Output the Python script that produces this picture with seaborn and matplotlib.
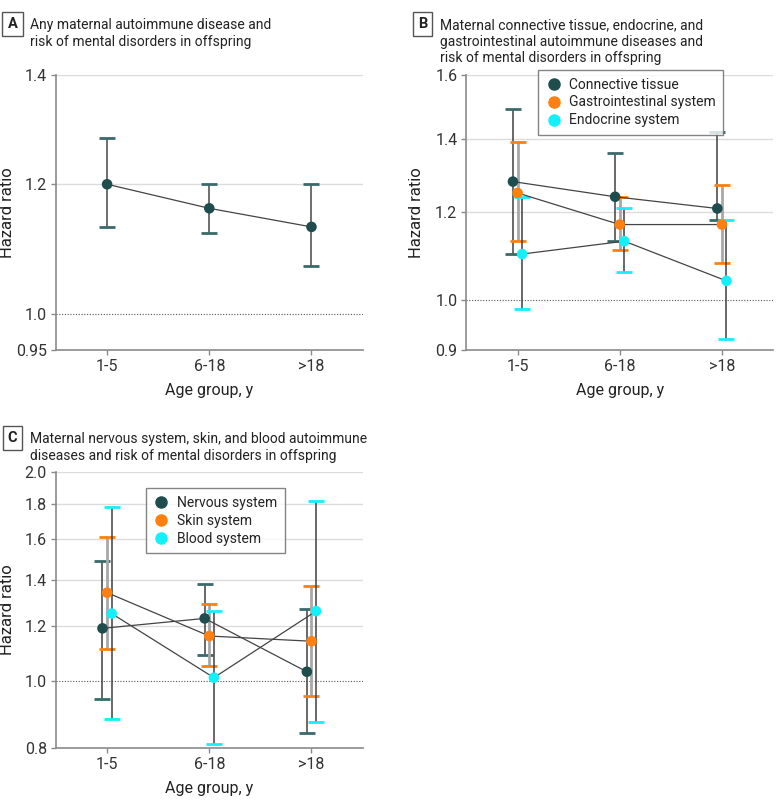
import matplotlib
matplotlib.use("Agg")
import matplotlib.pyplot as plt
from matplotlib.ticker import NullLocator, FixedLocator, FixedFormatter
from matplotlib.lines import Line2D
import seaborn as sns
import numpy as np
import pandas as pd

# age groups on the x axis
groups = ["1-5", "6-18", ">18"]

# panel A: any maternal autoimmune disease
any_hr = [1.20, 1.16, 1.13]
any_lo = [1.13, 1.12, 1.07]
any_hi = [1.28, 1.20, 1.20]

# panel B
ct_hr = [1.28, 1.24, 1.21]
ct_lo = [1.10, 1.13, 1.18]
ct_hi = [1.49, 1.36, 1.42]
gi_hr = [1.25, 1.17, 1.17]
gi_lo = [1.13, 1.11, 1.08]
gi_hi = [1.39, 1.24, 1.27]
en_hr = [1.10, 1.13, 1.04]
en_lo = [0.98, 1.06, 0.92]
en_hi = [1.24, 1.21, 1.18]

# panel C
nv_hr = [1.19, 1.23, 1.03]
nv_lo = [0.94, 1.09, 0.84]
nv_hi = [1.49, 1.38, 1.27]
sk_hr = [1.34, 1.16, 1.14]
sk_lo = [1.11, 1.05, 0.95]
sk_hi = [1.61, 1.29, 1.37]
bl_hr = [1.25, 1.01, 1.26]
bl_lo = [0.88, 0.81, 0.87]
bl_hi = [1.78, 1.26, 1.82]

DARK = "#1f4d4e"
DARK_CAP = "#3b6a6a"
ORANGE = "#ff8010"
CYAN = "#14f0fa"

sns.set_theme(style="white")
plt.rcParams['font.family'] = ['Roboto', 'DejaVu Sans']
plt.rcParams['text.color'] = '#222222'


def make_df(series):
    rows = []
    for k, (name, hr, lo, hi) in enumerate(series):
        off = (k - (len(series) - 1) / 2) * 0.045
        for i, g in enumerate(groups):
            rows.append({'series': name, 'group': g, 'x': i + off,
                         'hr': hr[i], 'lo': lo[i], 'hi': hi[i]})
    return pd.DataFrame(rows)


def draw_panel(ax, series, colors, stems, ylim, yticks, ylabels, legend_pos=None):
    df = make_df(series)
    names = [s[0] for s in series]

    # error bars: grey stems, coloured caps
    for name, col, stem in zip(names, colors, stems):
        d = df[df.series == name]
        cap_col = DARK_CAP if col == DARK else col
        eb = ax.errorbar(d['x'], d['hr'], yerr=[d['hr'] - d['lo'], d['hi'] - d['hr']],
                         fmt='none', ecolor=stem[0], elinewidth=stem[1], capsize=5.5,
                         capthick=2, zorder=2)
        for c in eb[1]:
            c.set_markeredgecolor(cap_col)
            c.set_color(cap_col)

    # connecting lines
    sns.lineplot(data=df, x='x', y='hr', units='series', estimator=None,
                 color='#444444', lw=0.9, ax=ax, zorder=3, legend=False)
    # points
    sns.scatterplot(data=df, x='x', y='hr', hue='series', palette=dict(zip(names, colors)),
                    s=58, edgecolor='none', ax=ax, zorder=4, legend=False)

    ax.set_yscale('log')
    ax.set_ylim(*ylim)
    ax.set_xlim(-0.5, 2.5)
    ax.yaxis.set_major_locator(FixedLocator(yticks))
    ax.yaxis.set_major_formatter(FixedFormatter(ylabels))
    ax.yaxis.set_minor_locator(NullLocator())
    ax.set_xticks(range(len(groups)))
    ax.set_xticklabels(groups)

    for t in yticks:
        if t > 1.0:
            ax.axhline(t, color='#dcdcdc', lw=1, zorder=0)
    ax.axhline(1.0, color='#555555', lw=0.8, ls=(0, (1, 1.5)), zorder=0)

    for side in ['top', 'right']:
        ax.spines[side].set_visible(False)
    for side in ['left', 'bottom']:
        ax.spines[side].set_color('#8a8a8a')
        ax.spines[side].set_linewidth(1.2)
    ax.tick_params(axis='both', which='major', length=3.5, width=1, color='#8a8a8a',
                   labelsize=11.5, labelcolor='#333333', pad=3, left=True, bottom=True)

    ax.set_xlabel('Age group, y', fontsize=11.5, color='#222222')
    ax.set_ylabel('Hazard ratio', fontsize=12, color='#222222')
    ax.xaxis.set_label_coords(0.5, -0.12)

    if legend_pos is not None:
        handles = [Line2D([0], [0], marker='o', ls='', markersize=8, color=c, label=n)
                   for n, c in zip(names, colors)]
        leg = ax.legend(handles=handles, loc='upper left', bbox_to_anchor=legend_pos,
                        borderaxespad=0, frameon=True, fancybox=False, fontsize=10,
                        handletextpad=0.5, labelspacing=0.28, borderpad=0.55,
                        handlelength=1.2)
        leg.get_frame().set_edgecolor('#666666')
        leg.get_frame().set_linewidth(1)
        leg.set_zorder(5)


fig = plt.figure(figsize=(7.8, 8.02), dpi=100)
ax_a = fig.add_axes([0.0718, 0.5636, 0.393, 0.343])
ax_b = fig.add_axes([0.598, 0.5636, 0.393, 0.343])
ax_c = fig.add_axes([0.0718, 0.0677, 0.393, 0.3434])

draw_panel(ax_a, [('Any', any_hr, any_lo, any_hi)], [DARK], [('#555555', 1.2)],
           (0.95, 1.4), [0.95, 1.0, 1.2, 1.4], ['0.95', '1.0', '1.2', '1.4'])

draw_panel(ax_b, [('Connective tissue', ct_hr, ct_lo, ct_hi),
                  ('Gastrointestinal system', gi_hr, gi_lo, gi_hi),
                  ('Endocrine system', en_hr, en_lo, en_hi)],
           [DARK, ORANGE, CYAN], [('#404040', 1.1), ('#a8a8a8', 2.0), ('#404040', 1.1)],
           (0.9, 1.6), [0.9, 1.0, 1.2, 1.4, 1.6], ['0.9', '1.0', '1.2', '1.4', '1.6'],
           legend_pos=(0.232, 1.018))

draw_panel(ax_c, [('Nervous system', nv_hr, nv_lo, nv_hi),
                  ('Skin system', sk_hr, sk_lo, sk_hi),
                  ('Blood system', bl_hr, bl_lo, bl_hi)],
           [DARK, ORANGE, CYAN], [('#404040', 1.1), ('#a8a8a8', 2.0), ('#404040', 1.1)],
           (0.8, 2.0), [0.8, 1.0, 1.2, 1.4, 1.6, 1.8, 2.0],
           ['0.8', '1.0', '1.2', '1.4', '1.6', '1.8', '2.0'],
           legend_pos=(0.292, 0.942))

# y labels sit close to the figure edge, as in the reference
ax_a.yaxis.set_label_coords(-0.135, 0.5)
ax_b.yaxis.set_label_coords(-0.14, 0.5)
ax_c.yaxis.set_label_coords(-0.135, 0.5)

# panel titles with boxed letters (pixel positions converted to figure fraction)
W, H = 780, 802
titles = [
    ('A', 12.5, 24, 30, ["Any maternal autoimmune disease and",
                         "risk of mental disorders in offspring"]),
    ('B', 422.5, 24, 440.5, ["Maternal connective tissue, endocrine, and",
                             "gastrointestinal autoimmune diseases and",
                             "risk of mental disorders in offspring"]),
    ('C', 12.5, 438, 30, ["Maternal nervous system, skin, and blood autoimmune",
                          "diseases and risk of mental disorders in offspring"]),
]
for letter, lx, ly, tx, lines in titles:
    fig.text(lx / W, 1 - ly / H, letter, ha='center', va='center', fontsize=10.5,
             fontweight='bold', color='#222222',
             bbox=dict(boxstyle='square,pad=0.35', fc='white', ec='#555555', lw=1))
    fig.text(tx / W, 1 - (ly - 5.5) / H, "\n".join(lines), ha='left', va='top',
             fontsize=10, color='#222222', linespacing=1.2)

fig.savefig('out.png', dpi=100)
